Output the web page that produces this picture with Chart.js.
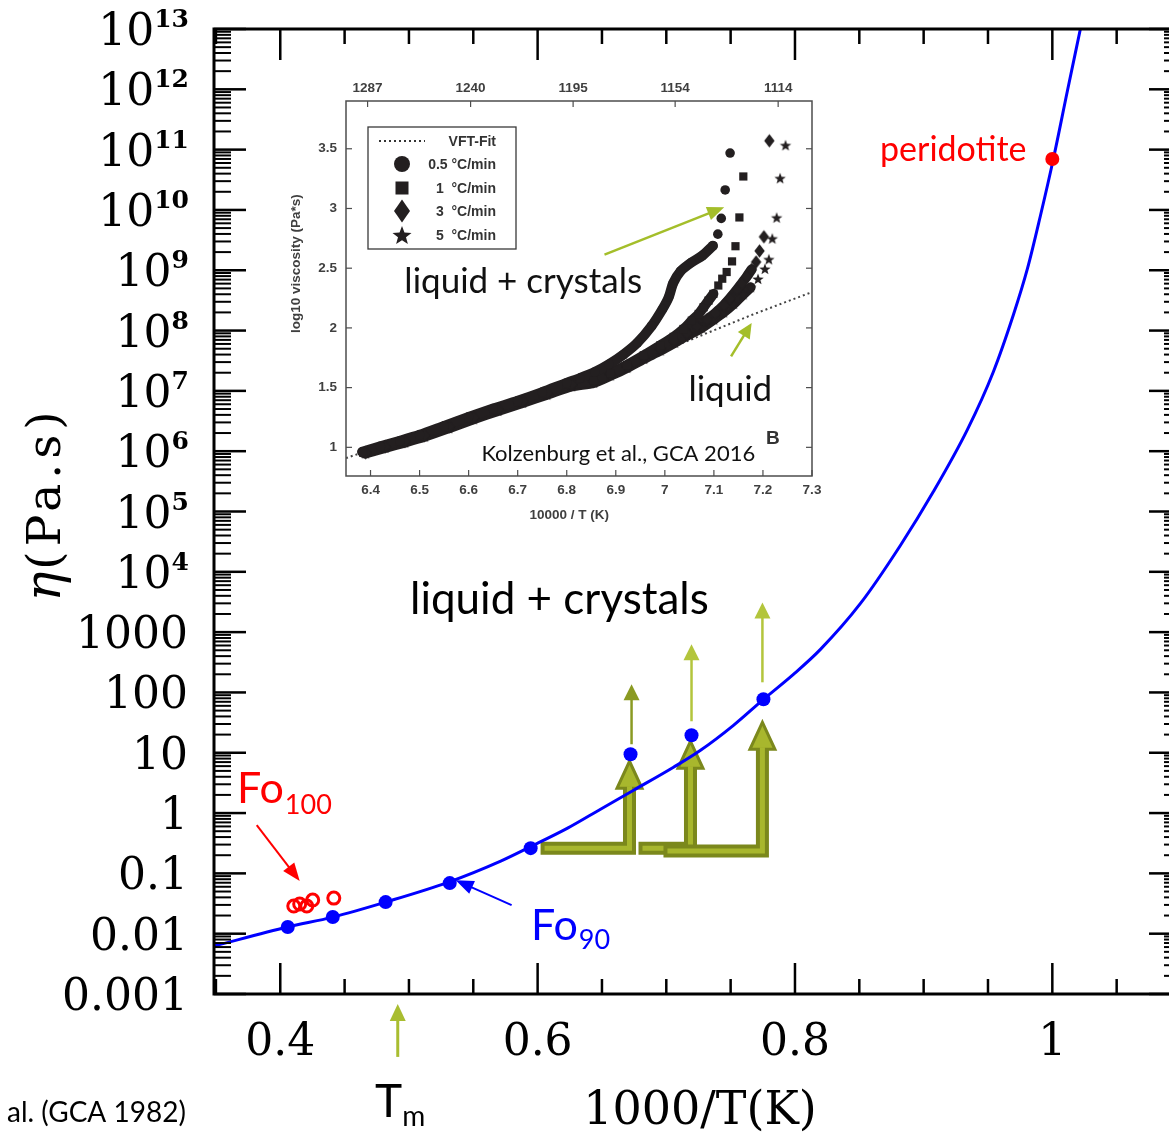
<!DOCTYPE html>
<html><head><meta charset="utf-8">
<script src="https://cdn.jsdelivr.net/npm/chart.js@4.4.1/dist/chart.umd.min.js"></script>
<style>
html,body{margin:0;padding:0;background:#fff;overflow:hidden}
#wrap{position:relative;width:1169px;height:1141px;overflow:hidden;background:#fff}
#main{position:absolute;left:0;top:0;width:1200px;height:1141px}
#inset{position:absolute;left:260px;top:55px;width:580px;height:480px}
</style></head><body>
<div id="wrap"><canvas id="main" width="1200" height="1141"></canvas><canvas id="inset" width="580" height="480"></canvas></div>
<script>
// ---------------- MAIN CHART DATA ----------------
const mainXMin = 0.3485, mainXMax = 1.1;
const mainYMin = 1e-3, mainYMax = 1e13;

// blue model curve
const curveX   = [0.3484,0.4058,0.4408,0.4819,0.5309,0.5713,0.5938,0.6233,0.6489,0.6746,0.7056,0.7266,0.7522,0.7755,0.7988,0.8198,0.8509,0.8819,0.9076,0.9340,0.9542,0.9697,0.9806,0.9907,1.0008,1.0117,1.0218];
const curveEta = [0.00624,0.01288,0.01884,0.03342,0.0716,0.1596,0.2723,0.562,1.159,2.39,5.75,10.99,28.5,76.9,199.5,518,2990,27350,2.14e5,2.28e6,2.08e7,1.81e8,1.05e9,7.94e9,7.0e10,9.38e11,1.0e13];

// Fo90 measured points
const fo90X   = [0.4058,0.4408,0.4819,0.5317,0.5946,0.6722,0.7196,0.7755];
const fo90Eta = [0.0129,0.0189,0.0334,0.069,0.262,9.44,19.5,76.9];

// Fo100 open circles
const fo100X   = [0.4105,0.4151,0.4206,0.4252,0.4416];
const fo100Eta = [0.0287,0.031,0.0287,0.0361,0.0389];

// peridotite
const peridotiteX   = [1.0];
const peridotiteEta = [7.0e10];

// ticks
const xMinorStep = 0.05;
const xMajorTicks = [0.4, 0.6, 0.8, 1.0];
const xTickLabels = ['0.4', '0.6', '0.8', '1'];
const yTickExps = [-3,-2,-1,0,1,2,3,4,5,6,7,8,9,10,11,12,13];
const yTickBase = ['0.001','0.01','0.1','1','10','100','1000','10','10','10','10','10','10','10','10','10','10'];
const yTickSup  = ['','','','','','','','4','5','6','7','8','9','10','11','12','13'];

// annotation arrows (x in 1000/T, y as log10 viscosity)
const lArrows = [
  {x0:0.6023, x1:0.6714, yBase:-0.582, yTip:0.859},
  {x0:0.6784, x1:0.7188, yBase:-0.582, yTip:1.190},
  {x0:0.6978, x1:0.7747, yBase:-0.631, yTip:1.505}
];
const thinArrows = [
  {x:0.6730, y0:1.141, y1:2.135, color:'#8a9a22'},
  {x:0.7196, y0:1.522, y1:2.797, color:'#b3c53c'},
  {x:0.7747, y0:2.168, y1:3.493, color:'#b3c53c'}
];

// ---------------- INSET DATA (Kolzenburg et al. 2016) ----------------
const insetXMin = 6.35, insetXMax = 7.3, insetYMin = 0.76, insetYMax = 3.9;
const insetXTicks = [6.4,6.5,6.6,6.7,6.8,6.9,7.0,7.1,7.2,7.3];
const insetXTickLabels = ['6.4','6.5','6.6','6.7','6.8','6.9','7','7.1','7.2','7.3'];
const insetYTicks = [1,1.5,2,2.5,3,3.5];
const insetYTickLabels = ['1','1.5','2','2.5','3','3.5'];
const insetTopTickPos = [6.394,6.604,6.813,7.021,7.231];
const insetTopTickLabels = ['1287','1240','1195','1154','1114'];

const rate05X = [6.383,6.42,6.46,6.50,6.55,6.60,6.65,6.70,6.75,6.80,6.827,6.857,6.886,6.915,6.944,6.973,6.995,7.008,7.017,7.032,7.054,7.076,7.098,7.108,7.115,7.123,7.133];
const rate05Y = [0.962,1.008,1.055,1.105,1.18,1.255,1.325,1.39,1.462,1.54,1.58,1.63,1.695,1.775,1.875,2.016,2.156,2.258,2.375,2.475,2.548,2.604,2.688,2.785,2.917,3.155,3.464];
const rate05Band = 23;

const rate1X = [6.385,6.42,6.46,6.50,6.55,6.60,6.65,6.70,6.75,6.80,6.855,6.889,6.923,6.957,6.991,7.018,7.038,7.055,7.069,7.079,7.089,7.099,7.109,7.117,7.126,7.137,7.144,7.152,7.160];
const rate1Y = [0.955,1.0,1.047,1.095,1.168,1.243,1.315,1.38,1.45,1.525,1.56,1.62,1.69,1.77,1.855,1.925,1.991,2.061,2.117,2.173,2.229,2.285,2.355,2.412,2.468,2.557,2.684,2.925,3.268];
const rate1Band = 22;

const rate3X = [6.39,6.43,6.47,6.51,6.56,6.61,6.66,6.71,6.76,6.81,6.855,6.889,6.923,6.957,6.991,7.018,7.045,7.065,7.086,7.103,7.120,7.133,7.147,7.157,7.167,7.177,7.186,7.193,7.202,7.213];
const rate3Y = [0.955,1.005,1.05,1.10,1.173,1.25,1.32,1.387,1.455,1.525,1.553,1.615,1.685,1.76,1.83,1.893,1.955,2.01,2.07,2.125,2.19,2.25,2.32,2.375,2.43,2.49,2.552,2.645,2.763,3.567];
const rate3Band = 26;

const rate5X = [6.39,6.43,6.47,6.51,6.56,6.61,6.66,6.71,6.76,6.81,6.855,6.889,6.923,6.957,6.991,7.02,7.05,7.075,7.10,7.12,7.14,7.16,7.175,7.19,7.204,7.212,7.219,7.228,7.235,7.246];
const rate5Y = [0.948,0.995,1.04,1.088,1.16,1.235,1.305,1.372,1.44,1.51,1.54,1.60,1.665,1.74,1.81,1.875,1.945,2.0,2.07,2.13,2.2,2.28,2.34,2.41,2.494,2.574,2.748,2.923,3.253,3.529];
const rate5Band = 23;

const vftX = [6.35, 7.046, 7.178, 7.3];
const vftY = [0.91, 1.89, 2.11, 2.30];

const legendLabels = ['VFT-Fit','0.5 °C/min','1  °C/min','3  °C/min','5  °C/min'];

// ---------------- helpers ----------------
const INK = '#231f20';
const pts = (xs, ys, n) => xs.slice(0, n ?? xs.length).map((x, i) => ({x, y: ys[i]}));
function line(ctx,x1,y1,x2,y2){ctx.beginPath();ctx.moveTo(x1,y1);ctx.lineTo(x2,y2);ctx.stroke();}
function arrow(ctx,x1,y1,x2,y2,color,w,hl,hw){
  const a=Math.atan2(y2-y1,x2-x1);
  const bx=x2-hl*Math.cos(a), by=y2-hl*Math.sin(a);
  ctx.strokeStyle=color; ctx.lineWidth=w; ctx.lineCap='butt';
  line(ctx,x1,y1,bx+Math.cos(a),by+Math.sin(a));
  ctx.fillStyle=color; ctx.beginPath(); ctx.moveTo(x2,y2);
  ctx.lineTo(bx+hw*Math.sin(a), by-hw*Math.cos(a));
  ctx.lineTo(bx-hw*Math.sin(a), by+hw*Math.cos(a)); ctx.closePath(); ctx.fill();
}
function starPath(g,cx,cy,r){
  g.beginPath();
  for(let i=0;i<10;i++){const rr=i%2?r*0.42:r; const a=-Math.PI/2+i*Math.PI/5;
    const px=cx+rr*Math.cos(a), py=cy+rr*Math.sin(a); if(i) g.lineTo(px,py); else g.moveTo(px,py);}
  g.closePath();
}
function diamondPath(g,cx,cy,hw,hh){g.beginPath();g.moveTo(cx,cy-hh);g.lineTo(cx+hw,cy);g.lineTo(cx,cy+hh);g.lineTo(cx-hw,cy);g.closePath();}
function makeStar(r){const s=Math.ceil(2*r+2);const c=document.createElement('canvas');c.width=s;c.height=s;const g=c.getContext('2d');g.fillStyle=INK;starPath(g,s/2,s/2+r*0.08,r);g.fill();return c;}
function makeDiamond(hw,hh){const c=document.createElement('canvas');c.width=Math.ceil(2*hw+2);c.height=Math.ceil(2*hh+2);const g=c.getContext('2d');g.fillStyle=INK;diamondPath(g,c.width/2,c.height/2,hw,hh);g.fill();return c;}
const starImg = makeStar(6);
const diamondImg = makeDiamond(5.2, 6.8);

// ---------------- MAIN PLUGIN ----------------
const mainDecor = {
  id: 'mainDecor',
  beforeDatasetsDraw(chart){
    const {ctx, scales:{x:xs, y:ys}} = chart;
    const PX = v => xs.getPixelForValue(v), PY = l => ys.getPixelForValue(Math.pow(10,l));
    ctx.save();
    lArrows.forEach(a=>{
      const sx=PX(a.x0), cx=PX(a.x1), sy=PY(a.yBase), ty=PY(a.yTip);
      const hl=27, hw=12.5;
      ctx.lineJoin='miter'; ctx.lineCap='butt';
      ctx.strokeStyle='#7b881c'; ctx.lineWidth=13;
      ctx.beginPath(); ctx.moveTo(sx,sy); ctx.lineTo(cx,sy); ctx.lineTo(cx,ty+hl); ctx.stroke();
      ctx.beginPath(); ctx.moveTo(cx,ty); ctx.lineTo(cx+hw,ty+hl); ctx.lineTo(cx-hw,ty+hl); ctx.closePath();
      ctx.fillStyle='#a8b72d'; ctx.lineWidth=3; ctx.fill(); ctx.stroke();
      ctx.strokeStyle='#a8b72d'; ctx.lineWidth=5;
      ctx.beginPath(); ctx.moveTo(sx+4,sy); ctx.lineTo(cx,sy); ctx.lineTo(cx,ty+hl-2); ctx.stroke();
    });
    thinArrows.forEach(a=>arrow(ctx,PX(a.x),PY(a.y0),PX(a.x),PY(a.y1),a.color,2.5,16,8));
    ctx.restore();
  },
  afterDraw(chart){
    const {ctx, chartArea:ca, scales:{x:xs, y:ys}} = chart;
    const PX = v => xs.getPixelForValue(v), PY = l => ys.getPixelForValue(Math.pow(10,l));
    ctx.save();
    // frame
    ctx.strokeStyle='#000'; ctx.lineWidth=3;
    ctx.strokeRect(ca.left, ca.top, ca.right-ca.left, ca.bottom-ca.top);
    // x ticks (inward, bottom and top)
    ctx.lineWidth=2.5;
    const k0 = Math.ceil(mainXMin/xMinorStep - 1e-9);
    for(let k=k0;;k++){
      const v = Math.round(k*xMinorStep*1e6)/1e6; if(v>mainXMax+1e-9) break;
      const p = PX(v); const major = xMajorTicks.some(m=>Math.abs(m-v)<1e-6);
      const len = major?31:15;
      line(ctx,p,ca.bottom,p,ca.bottom-len); line(ctx,p,ca.top,p,ca.top+len);
    }
    // y ticks (log, inward, left and right)
    for(let i=0;i<yTickExps.length;i++){
      const e=yTickExps[i]; const p=PY(e);
      ctx.lineWidth=2.5;
      line(ctx,ca.left,p,ca.left+32,p); line(ctx,ca.right,p,ca.right-32,p);
      if(i<yTickExps.length-1){
        ctx.lineWidth=2;
        for(let m=2;m<=9;m++){const q=ys.getPixelForValue(m*Math.pow(10,e));
          line(ctx,ca.left,q,ca.left+17,q); line(ctx,ca.right,q,ca.right-17,q);}
      }
    }
    // y tick labels
    ctx.fillStyle='#000'; ctx.textBaseline='alphabetic'; ctx.textAlign='right';
    const labRight = ca.left - 26;
    for(let i=0;i<yTickExps.length;i++){
      const p=PY(yTickExps[i]);
      if(yTickSup[i]){
        ctx.font='bold 25px "DejaVu Serif"';
        const sw=ctx.measureText(yTickSup[i]).width;
        ctx.fillText(yTickSup[i], labRight+1, p-2);
        ctx.font='44px "DejaVu Serif"';
        ctx.fillText(yTickBase[i], labRight+1-sw, p+16);
      } else {
        ctx.font='44px "DejaVu Serif"';
        ctx.fillText(yTickBase[i], labRight, p+16);
      }
    }
    // x tick labels
    ctx.textAlign='center'; ctx.font='44px "DejaVu Serif"';
    xMajorTicks.forEach((v,i)=>ctx.fillText(xTickLabels[i], PX(v), ca.bottom+61));
    // x title
    ctx.font='46px "DejaVu Serif"';
    ctx.fillText('1000/T(K)', 700, 1124);
    // y title (rotated)
    ctx.save();
    ctx.translate(60, 505); ctx.rotate(-Math.PI/2);
    ctx.textAlign='left';
    ctx.font='italic 50px "DejaVu Serif"'; const w1=ctx.measureText('η').width;
    ctx.font='47px "DejaVu Serif"'; ctx.letterSpacing='5px'; const w2=ctx.measureText('(Pa.s)').width;
    const x0=-(w1+w2)/2;
    ctx.letterSpacing='0px'; ctx.font='italic 50px "DejaVu Serif"'; ctx.fillText('η', x0, 0);
    ctx.font='47px "DejaVu Serif"'; ctx.letterSpacing='5px'; ctx.fillText('(Pa.s)', x0+w1+2, 0);
    ctx.letterSpacing='0px';
    ctx.restore();

    // annotations text
    ctx.textAlign='left';
    ctx.fillStyle='#000'; ctx.font='44px Lato';
    ctx.fillText('liquid + crystals', 410, 614);
    ctx.fillStyle='#ff0000'; ctx.font='34px Lato';
    ctx.fillText('peridotite', 880, 161);
    // Fo100
    ctx.font='43px Lato'; ctx.fillText('Fo', 237, 803);
    let w=ctx.measureText('Fo').width; ctx.font='27px Lato'; ctx.fillText('100', 237+w+1, 814);
    // Fo90
    ctx.fillStyle='#0000ff'; ctx.font='43px Lato'; ctx.fillText('Fo', 531, 940);
    w=ctx.measureText('Fo').width; ctx.font='27px Lato'; ctx.fillText('90', 531+w+1, 949);
    // Tm
    ctx.fillStyle='#000'; ctx.font='46px Lato'; ctx.fillText('T', 375, 1117);
    w=ctx.measureText('T').width; ctx.font='28px Lato'; ctx.fillText('m', 375+w, 1126);
    ctx.font='28px Lato'; ctx.fillText('al. (GCA 1982)', 7, 1122);

    // arrows
    arrow(ctx, PX(0.3817), PY(-0.201), PX(0.4151), PY(-1.128), '#ff0000', 2, 18, 7);
    arrow(ctx, PX(0.5798), PY(-1.526), PX(0.5363), PY(-1.112), '#0000ff', 2, 18, 7);
    arrow(ctx, PX(0.4913), PY(-4.043), PX(0.4913), PY(-3.166), '#a9bd30', 3, 17, 8);
    ctx.restore();
  }
};

const mainChart = new Chart(document.getElementById('main'), {
  type: 'scatter',
  data: { datasets: [
    { label:'Fo90', data: pts(fo90X, fo90Eta), pointRadius:7, pointBackgroundColor:'#0000ff', pointBorderWidth:0, showLine:false },
    { label:'Fo100', data: pts(fo100X, fo100Eta), pointRadius:6, pointBorderWidth:3, pointBorderColor:'#ff0000', pointBackgroundColor:'rgba(255,255,255,0)', showLine:false },
    { label:'peridotite', data: pts(peridotiteX, peridotiteEta), pointRadius:7, pointBackgroundColor:'#ff0000', pointBorderWidth:0, showLine:false },
    { label:'model', data: pts(curveX, curveEta), showLine:true, borderColor:'#0000ff', borderWidth:3, pointRadius:0, cubicInterpolationMode:'monotone' }
  ]},
  options: {
    responsive:false, animation:false, events:[],
    layout:{ padding:{ left:214, top:29, right:19, bottom:147 } },
    plugins:{ legend:{display:false}, tooltip:{enabled:false} },
    scales:{
      x:{ type:'linear', display:false, min:mainXMin, max:mainXMax },
      y:{ type:'logarithmic', display:false, min:mainYMin, max:mainYMax }
    }
  },
  plugins:[mainDecor]
});

// ---------------- INSET PLUGIN ----------------
const insetDecor = {
  id:'insetDecor',
  afterDraw(chart){
    const {ctx, chartArea:ca, scales:{x:xs, y:ys}} = chart;
    const PX=v=>xs.getPixelForValue(v), PY=v=>ys.getPixelForValue(v);
    ctx.save();
    ctx.strokeStyle='#4d4d4d'; ctx.lineWidth=1.5;
    ctx.strokeRect(ca.left, ca.top, ca.right-ca.left, ca.bottom-ca.top);
    ctx.lineWidth=1.2;
    insetXTicks.forEach(v=>{const p=PX(v); line(ctx,p,ca.bottom,p,ca.bottom-6);});
    insetTopTickPos.forEach(v=>{const p=PX(v); line(ctx,p,ca.top,p,ca.top+6);});
    insetYTicks.forEach(v=>{const p=PY(v); line(ctx,ca.left,p,ca.left+6,p); line(ctx,ca.right,p,ca.right-6,p);});
    // tick labels
    ctx.fillStyle='#3f3f3f'; ctx.font='bold 13.5px "Liberation Sans", Arial, sans-serif';
    ctx.textAlign='center'; ctx.textBaseline='alphabetic';
    insetXTicks.forEach((v,i)=>ctx.fillText(insetXTickLabels[i], PX(v), ca.bottom+18));
    insetTopTickPos.forEach((v,i)=>ctx.fillText(insetTopTickLabels[i], PX(v), ca.top-9));
    ctx.textAlign='right'; ctx.textBaseline='middle';
    insetYTicks.forEach((v,i)=>ctx.fillText(insetYTickLabels[i], ca.left-9, PY(v)));
    // titles
    ctx.textAlign='center'; ctx.textBaseline='alphabetic';
    ctx.font='bold 13.5px "Liberation Sans", Arial, sans-serif';
    ctx.fillText('10000 / T (K)', PX(6.805), ca.bottom+43);
    ctx.save(); ctx.translate(ca.left-46, PY(2.538)); ctx.rotate(-Math.PI/2);
    ctx.fillText('log10 viscosity (Pa*s)', 0, 0); ctx.restore();
    // legend
    const lx=ca.left+22, ly=ca.top+26, lw=148, lh=122;
    ctx.fillStyle='#fff'; ctx.fillRect(lx,ly,lw,lh);
    ctx.strokeStyle='#3a3a3a'; ctx.lineWidth=1.3; ctx.strokeRect(lx,ly,lw,lh);
    const rows=[14,37,61,84,108];
    ctx.setLineDash([2,3]); ctx.strokeStyle='#333'; ctx.lineWidth=2;
    line(ctx,lx+11,ly+rows[0],lx+57,ly+rows[0]); ctx.setLineDash([]);
    const sx=lx+34; ctx.fillStyle=INK;
    ctx.beginPath(); ctx.arc(sx,ly+rows[1],8,0,2*Math.PI); ctx.fill();
    ctx.fillRect(sx-6.5,ly+rows[2]-6.5,13,13);
    diamondPath(ctx,sx,ly+rows[3],8,11.5); ctx.fill();
    starPath(ctx,sx,ly+rows[4]+1,10); ctx.fill();
    ctx.fillStyle='#333'; ctx.textAlign='right'; ctx.textBaseline='middle';
    ctx.font='bold 14px "Liberation Sans", Arial, sans-serif';
    legendLabels.forEach((t,i)=>ctx.fillText(t, lx+128, ly+rows[i]+1));
    // annotation texts
    ctx.textAlign='left'; ctx.textBaseline='alphabetic'; ctx.fillStyle='#111';
    ctx.font='35px Lato';
    ctx.fillText('liquid + crystals', PX(6.469), PY(2.294));
    ctx.fillText('liquid', PX(7.048), PY(1.385));
    ctx.font='22px Lato';
    ctx.fillText('Kolzenburg et al., GCA 2016', PX(6.626), PY(0.888));
    ctx.fillStyle='#333'; ctx.font='bold 19px "Liberation Sans", Arial, sans-serif';
    ctx.fillText('B', PX(7.206), PY(1.031));
    // green arrows
    arrow(ctx, PX(6.877), PY(2.614), PX(7.121), PY(3.010), '#a4be2a', 2.5, 17, 7);
    arrow(ctx, PX(7.135), PY(1.761), PX(7.177), PY(2.041), '#a4be2a', 2.5, 15, 7);
    ctx.restore();
  }
};

const bandStyle = { showLine:true, pointRadius:0, borderWidth:10, borderColor:INK, tension:0.25, borderCapStyle:'round', borderJoinStyle:'round' };
const insetChart = new Chart(document.getElementById('inset'), {
  type:'scatter',
  data:{ datasets:[
    { label:'0.5 °C/min', data: pts(rate05X, rate05Y), pointStyle:'circle', pointRadius:4.8, pointBackgroundColor:INK, pointBorderWidth:0 },
    { label:'1 °C/min', data: pts(rate1X, rate1Y), pointStyle:'rect', pointRadius:5.8, pointBackgroundColor:INK, pointBorderWidth:0 },
    { label:'3 °C/min', data: pts(rate3X, rate3Y), pointStyle:diamondImg, pointRadius:5, pointBorderWidth:0 },
    { label:'5 °C/min', data: pts(rate5X, rate5Y), pointStyle:starImg, pointRadius:5, pointBorderWidth:0 },
    Object.assign({ label:'band 0.5', data: pts(rate05X, rate05Y, rate05Band) }, bandStyle),
    Object.assign({ label:'band 1', data: pts(rate1X, rate1Y, rate1Band) }, bandStyle),
    Object.assign({ label:'band 3', data: pts(rate3X, rate3Y, rate3Band) }, bandStyle),
    Object.assign({ label:'band 5', data: pts(rate5X, rate5Y, rate5Band) }, bandStyle),
    { label:'VFT-Fit', data: pts(vftX, vftY), showLine:true, pointRadius:0, borderColor:'#444', borderWidth:2, borderDash:[2,3] }
  ]},
  options:{
    responsive:false, animation:false, events:[],
    layout:{ padding:{ left:86, top:46, right:28, bottom:59 } },
    plugins:{ legend:{display:false}, tooltip:{enabled:false} },
    scales:{
      x:{ type:'linear', display:false, min:insetXMin, max:insetXMax },
      y:{ type:'linear', display:false, min:insetYMin, max:insetYMax }
    }
  },
  plugins:[insetDecor]
});
</script>
</body></html>
